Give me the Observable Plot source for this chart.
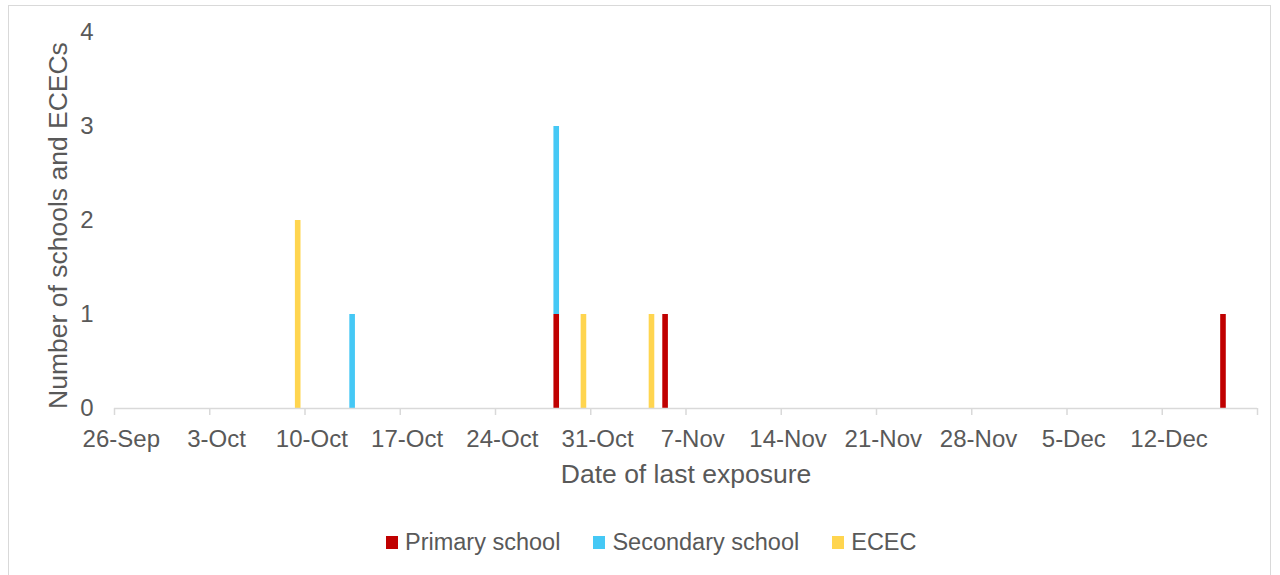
<!DOCTYPE html>
<html>
<head>
<meta charset="utf-8">
<script src="https://cdn.jsdelivr.net/npm/d3@7"></script>
<script src="https://cdn.jsdelivr.net/npm/@observablehq/plot@0.6"></script>
<style>
  html, body { margin: 0; padding: 0; background: #fff; }
  #wrap { position: relative; width: 1280px; height: 575px; overflow: hidden; font-family: "Liberation Sans", Arial, sans-serif; }
  #border { position: absolute; left: 8px; top: 5px; width: 1263px; height: 620px; border: 1px solid #d9d9d9; box-sizing: border-box; }
  #chart { position: absolute; left: 0; top: 0; }
  #legend { position: absolute; left: 386px; top: 529px; display: flex; align-items: center; font-size: 23.5px; color: #595959; white-space: nowrap; }
  .item { display: flex; align-items: center; margin-right: 33px; }
  .sw { width: 12px; height: 13px; margin-right: 7px; }
</style>
</head>
<body>
<div id="wrap">
  <div id="border"></div>
  <div id="chart"></div>
  <div id="legend"></div>
</div>
<script>
// Data
const exposureDates = ["2020-10-09", "2020-10-13", "2020-10-28", "2020-10-28", "2020-10-30", "2020-11-04", "2020-11-05", "2020-12-16"];
const settingTypes  = ["ECEC", "Secondary school", "Primary school", "Secondary school", "ECEC", "ECEC", "Primary school", "Primary school"];
const counts        = [2, 1, 1, 2, 1, 1, 1, 1];

const categories = ["Primary school", "Secondary school", "ECEC"];
const colors = ["#C00000", "#45C8F5", "#FFD54F"];

const tickDates = ["2020-09-26", "2020-10-03", "2020-10-10", "2020-10-17", "2020-10-24", "2020-10-31", "2020-11-07", "2020-11-14", "2020-11-21", "2020-11-28", "2020-12-05", "2020-12-12", "2020-12-19"];
const tickLabels = ["26-Sep", "3-Oct", "10-Oct", "17-Oct", "24-Oct", "31-Oct", "7-Nov", "14-Nov", "21-Nov", "28-Nov", "5-Dec", "12-Dec", ""];
const yTicks = [0, 1, 2, 3, 4];

const parse = d3.utcParse("%Y-%m-%d");
const data = exposureDates.map((d, i) => ({date: parse(d), type: settingTypes[i], count: counts[i]}));
const ticks = tickDates.map(parse);
const labelOf = new Map(ticks.map((t, i) => [+t, tickLabels[i]]));

const textColor = "#595959";
const axisColor = "#d9d9d9";

const chart = Plot.plot({
  width: 1280,
  height: 500,
  marginTop: 32,
  marginBottom: 92,
  marginLeft: 114,
  marginRight: 23,
  style: {fontFamily: "Liberation Sans, Arial, sans-serif", color: textColor, background: "transparent"},
  x: {type: "utc", domain: [ticks[0], ticks[ticks.length - 1]]},
  y: {domain: [0, 4]},
  color: {domain: categories, range: colors},
  marks: [
    Plot.rectY(data, {x: "date", interval: d3.utcDay, y: "count", fill: "type", insetLeft: 4, insetRight: 4}),
    Plot.ruleY([0], {stroke: axisColor, strokeWidth: 1.5}),
    Plot.axisX({ticks, tickSize: 7, stroke: axisColor, strokeWidth: 1.5, tickFormat: () => "", label: null}),
    Plot.axisX({ticks, tickSize: 0, tickPadding: 21, fontSize: 24, fill: textColor, dx: 6.8,
      tickFormat: d => labelOf.get(+d), label: "Date of last exposure", labelAnchor: "center", labelArrow: "none", labelOffset: 74}),
    Plot.axisY({ticks: yTicks, tickSize: 0, tickPadding: 21, fontSize: 24, fill: textColor, tickFormat: d3.format("d"),
      label: "Number of schools and ECECs", labelAnchor: "center", labelArrow: "none", labelOffset: 66})
  ]
});
document.getElementById("chart").appendChild(chart);

// style the axis titles
chart.querySelectorAll("g[aria-label='x-axis label'] text, g[aria-label='y-axis label'] text").forEach(t => {
  t.setAttribute("font-size", 26.5);
});
chart.querySelectorAll("g[aria-label='y-axis label'] text").forEach(t => {
  t.setAttribute("dx", -5);
});

const legend = document.getElementById("legend");
categories.forEach((c, i) => {
  const item = document.createElement("div");
  item.className = "item";
  item.innerHTML = `<div class="sw" style="background:${colors[i]}"></div><span>${c}</span>`;
  legend.appendChild(item);
});
</script>
</body>
</html>
